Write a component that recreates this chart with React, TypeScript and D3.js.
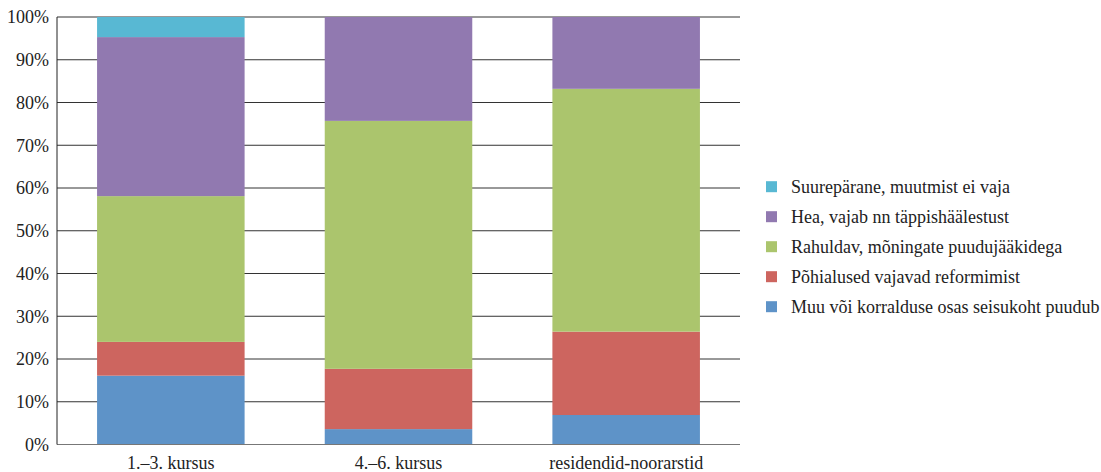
import React from "react";
import * as d3 from "d3";

const categories = ["1.–3. kursus", "4.–6. kursus", "residendid-noorarstid"];
const seriesNames = [
  "Muu või korralduse osas seisukoht puudub",
  "Põhialused vajavad reformimist",
  "Rahuldav, mõningate puudujääkidega",
  "Hea, vajab nn täppishäälestust",
  "Suurepärane, muutmist ei vaja",
];
const muu = [16.1, 3.6, 6.9];
const pohialused = [7.9, 14.1, 19.5];
const rahuldav = [34.1, 58.0, 56.8];
const hea = [37.2, 24.3, 16.8];
const suureparane = [4.7, 0, 0];
const colors = ["#5e93c8", "#cd655f", "#abc56d", "#9179b0", "#58b8d3"];
const yTicks = [0, 10, 20, 30, 40, 50, 60, 70, 80, 90, 100];

const W = 1101;
const H = 472;
const left = 57;
const right = 740;
const top = 17;
const bottom = 444.5;
const SERIF = "Liberation Serif";

export default function App() {
  const rows = categories.map((c, i) => ({
    cat: c,
    s0: muu[i],
    s1: pohialused[i],
    s2: rahuldav[i],
    s3: hea[i],
    s4: suureparane[i],
  }));
  const keys = ["s0", "s1", "s2", "s3", "s4"];
  const stack = d3.stack<any>().keys(keys)(rows);
  const x = d3
    .scaleBand<string>()
    .domain(categories)
    .range([left, right])
    .paddingInner(0.352)
    .paddingOuter(0.176);
  const y = d3.scaleLinear().domain([0, 100]).range([bottom, top]);

  const legendOrder = [4, 3, 2, 1, 0];

  return (
    <svg
      width={W}
      height={H}
      fontFamily={SERIF}
      style={{ position: "absolute", left: 0, top: 0, fontFamily: SERIF }}
    >
      {yTicks.map((t) => (
        <line key={"g" + t} x1={left} x2={right} y1={y(t)} y2={y(t)} stroke="#333" strokeWidth={1} />
      ))}
      {yTicks.map((t) => (
        <text
          key={"t" + t}
          x={49}
          y={y(t)}
          dy="0.35em"
          textAnchor="end"
          fontSize={18}
          fontFamily={SERIF}
          fill="#222"
          style={{ fontFamily: SERIF }}
        >
          {t + "%"}
        </text>
      ))}
      {stack.map((layer, li) =>
        layer.map((d, i) => (
          <rect
            key={li + "-" + i}
            x={x(categories[i])}
            width={x.bandwidth()}
            y={y(d[1])}
            height={Math.max(0, y(d[0]) - y(d[1]))}
            fill={colors[li]}
          />
        ))
      )}
      <line x1={left} x2={right} y1={bottom} y2={bottom} stroke="#777" strokeWidth={1} />
      <line x1={left} x2={left} y1={top} y2={bottom} stroke="#222" strokeWidth={1} />
      {categories.map((c) => (
        <text
          key={c}
          x={(x(c) as number) + x.bandwidth() / 2}
          y={469}
          textAnchor="middle"
          fontSize={18}
          fontFamily={SERIF}
          fill="#222"
          style={{ fontFamily: SERIF }}
        >
          {c}
        </text>
      ))}
      {legendOrder.map((si, k) => {
        const cy = 186.7 + k * 30;
        return (
          <g key={si}>
            <rect x={766} y={cy - 5.5} width={11} height={11} fill={colors[si]} />
            <text
              x={791}
              y={cy}
              dy="0.35em"
              fontSize={18}
              fontFamily={SERIF}
              fill="#222"
              style={{ fontFamily: SERIF }}
            >
              {seriesNames[si]}
            </text>
          </g>
        );
      })}
    </svg>
  );
}
